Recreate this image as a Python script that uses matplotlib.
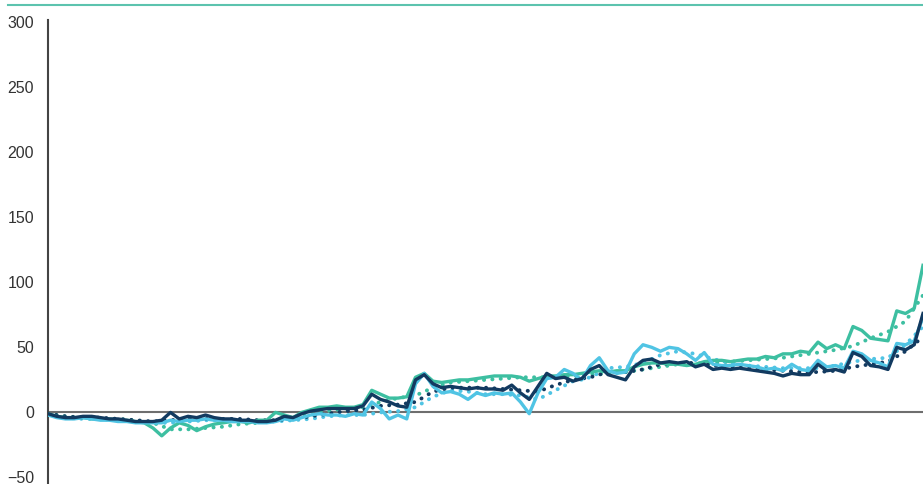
import numpy as np
import matplotlib.pyplot as plt

plt.rcParams['font.family'] = ['Liberation Sans Narrow', 'Liberation Sans', 'DejaVu Sans']

# solid series, one value per step (101 steps across the window)
navy = [-1, -3, -4, -4, -3, -3, -4, -5, -5, -6,
        -7, -7, -7, -6, 0, -5, -3, -4, -2, -4,
        -5, -5, -6, -6, -7, -7, -6, -3, -4, -1,
        1, 2, 3, 3, 3, 3, 5, 14, 10, 8,
        5, 4, 25, 29, 22, 19, 20, 19, 18, 19,
        18, 18, 17, 21, 15, 10, 20, 30, 26, 27,
        24, 26, 33, 36, 29, 27, 25, 35, 40, 41,
        38, 39, 38, 39, 35, 37, 33, 34, 33, 34,
        33, 32, 31, 30, 28, 30, 29, 29, 37, 32,
        33, 31, 46, 43, 36, 35, 33, 50, 48, 52,
        76]
light_blue = [-2, -4, -5, -5, -4, -5, -6, -6, -7, -7,
              -8, -8, -8, -8, -6, -7, -6, -6, -5, -6,
              -6, -7, -7, -7, -8, -8, -7, -5, -6, -4,
              -2, -1, -2, -2, -3, -1, -2, 8, 3, -5,
              -2, -5, 22, 30, 20, 15, 16, 14, 10, 15,
              13, 15, 14, 15, 8, -1, 15, 26, 27, 33,
              30, 25, 36, 42, 32, 30, 31, 45, 52, 50,
              47, 50, 49, 45, 40, 46, 37, 36, 36, 37,
              36, 35, 33, 34, 32, 37, 33, 32, 40, 35,
              36, 34, 47, 45, 40, 38, 35, 53, 52, 55,
              73]
teal = [-1, -3, -4, -4, -4, -5, -5, -5, -6, -6,
        -7, -8, -12, -18, -12, -8, -10, -14, -11, -9,
        -8, -7, -7, -8, -6, -6, 0, -2, -4, 0,
        2, 4, 4, 5, 4, 4, 6, 17, 14, 11,
        11, 12, 27, 30, 24, 23, 24, 25, 25, 26,
        27, 28, 28, 28, 27, 24, 26, 28, 28, 29,
        29, 30, 31, 32, 31, 32, 32, 35, 37, 38,
        38, 37, 37, 36, 37, 39, 40, 40, 39, 40,
        41, 41, 43, 42, 45, 45, 47, 46, 54, 49,
        52, 49, 66, 63, 57, 56, 55, 78, 76, 80,
        113]

# dotted trend lines, every second step
navy_trend = [-1, -3, -4, -4, -5, -6, -7, -6, -5, -5,
              -5, -5, -6, -6, -5, -3, -1, 1, 2, 5,
              6, 8, 16, 19, 19, 19, 18, 17, 16, 21,
              25, 27, 31, 31, 33, 37, 38, 38, 36, 35,
              34, 33, 32, 31, 31, 32, 35, 37, 39, 47,
              58]
light_blue_trend = [-2, -4, -5, -5, -6, -7, -8, -8, -7, -6,
                    -6, -6, -7, -7, -6, -5, -3, -2, -2, 0,
                    1, 4, 12, 17, 16, 14, 14, 13, 10, 17,
                    24, 27, 34, 35, 38, 44, 47, 45, 41, 38,
                    36, 35, 34, 34, 34, 36, 39, 41, 42, 52,
                    66]
teal_trend = [-1, -3, -4, -5, -5, -6, -8, -13, -13, -12,
              -11, -9, -8, -6, -4, -2, 1, 3, 4, 8,
              11, 13, 19, 23, 24, 25, 26, 27, 27, 27,
              28, 29, 30, 31, 33, 35, 37, 37, 38, 39,
              40, 41, 42, 44, 46, 48, 51, 57, 62, 70,
              90]

c_navy = '#123a60'
c_lb = '#50c4e4'
c_teal = '#3dbfa1'

x = np.arange(len(navy))
xt = np.arange(0, len(navy), 2)

fig = plt.figure(figsize=(9.23, 4.84), dpi=100)
ax = fig.add_axes([48 / 923, 0, 1 - 48 / 923, 1 - 20 / 484])

ax.axhline(0, color='#6e6e6e', lw=1.5, zorder=1)

dot = dict(lw=2.8, linestyle=(0, (0.05, 2.1)), dash_capstyle='round', zorder=2)
ax.plot(xt, teal_trend, color=c_teal, **dot)
ax.plot(xt, light_blue_trend, color=c_lb, **dot)
ax.plot(xt, navy_trend, color=c_navy, **dot)

ax.plot(x, teal, color=c_teal, lw=2.4, zorder=3)
ax.plot(x, light_blue, color=c_lb, lw=2.4, zorder=4)
ax.plot(x, navy, color=c_navy, lw=2.4, zorder=5)

ax.set_xlim(0, len(navy) - 1)
ax.set_ylim(-55, 301.5)
ax.set_yticks([-50, 0, 50, 100, 150, 200, 250, 300])
ax.set_yticklabels(['\u221250', '0', '50', '100', '150', '200', '250', '300'])
ax.tick_params(axis='y', length=0, pad=10, labelsize=11.5, labelcolor='#333333')
ax.set_xticks([])

for s in ['top', 'right', 'bottom']:
    ax.spines[s].set_visible(False)
ax.spines['left'].set_color('#444444')
ax.spines['left'].set_linewidth(1.5)

# rule under the (cropped) heading
fig.add_artist(plt.Line2D([8 / 923, 1], [1 - 5 / 484, 1 - 5 / 484],
                          color='#5cc3ae', lw=1.5))

fig.savefig('out.png', dpi=100)
